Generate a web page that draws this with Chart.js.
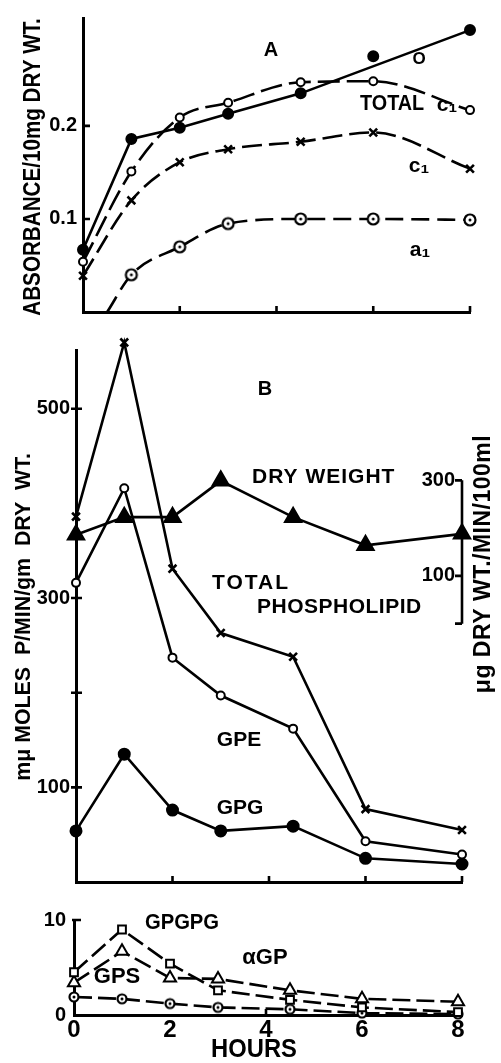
<!DOCTYPE html>
<html>
<head>
<meta charset="utf-8">
<script src="https://cdn.jsdelivr.net/npm/chart.js@4.4.1/dist/chart.umd.min.js"></script>
<style>
  body { margin: 0; background: #fff; }
  #page { position: relative; width: 501px; height: 1063px; }
  canvas { position: absolute; left: 0; }
</style>
</head>
<body>
<div id="page">
  <canvas id="panelA" width="501" height="330" style="top:0"></canvas>
  <canvas id="panelB" width="501" height="570" style="top:330px"></canvas>
  <canvas id="panelC" width="501" height="163" style="top:900px"></canvas>
</div>
<script>
// DATA (hours after start)
const hours = [0, 1, 2, 3, 4.5, 6, 8];

// panel A - absorbance / 10 mg dry wt.
const absO = [0.067, 0.186, 0.198, 0.213, 0.235, 0.275, 0.303];
const absTotalC1 = [0.054, 0.151, 0.209, 0.225, 0.247, 0.248, 0.217];
const absC1 = [0.039, 0.120, 0.161, 0.175, 0.183, 0.193, 0.154];
const a1Hours = [0.5, 1, 2, 3, 4.5, 6, 8];
const absA1 = [0.0, 0.040, 0.070, 0.095, 0.100, 0.100, 0.099];
const absTicks = [0.1, 0.2];

// panel B - m-micro moles P/min/gm dry wt. and dry weight
const totalPL = [386, 570, 331, 263, 238, 77, 55];
const gpe = [316, 416, 237, 197, 162, 43, 29];
const gpg = [54, 135, 76, 54, 59, 25, 19];
const dryWeight = [186, 223, 223, 299, 223, 164, 188];
const rateTicks = [100, 300, 500];
const rateMinor = [200];
const dryTicks = [100, 300];

// panel C - small fractions
const gpgpg = [4.5, 9.0, 5.4, 2.6, 1.6, 0.8, 0.3];
const alphaGP = [3.4, 6.7, 3.9, 3.8, 2.6, 1.7, 1.4];
const gps = [1.9, 1.7, 1.2, 0.8, 0.6, 0.2, 0.1];
const smallTicks = [0, 10];
const hourTicks = [0, 2, 4, 6, 8];

const FONT = '"Liberation Sans", Arial, sans-serif';

function series(xs, ys) {
  return xs.map((x, i) => ({ x: x, y: ys[i] }));
}

// circle with a dot in the middle
function ringDot(r) {
  const c = document.createElement("canvas");
  const s = Math.ceil(r * 2 + 5);
  c.width = s;
  c.height = s;
  const g = c.getContext("2d");
  g.fillStyle = "#fff";
  g.strokeStyle = "#000";
  g.lineWidth = 2.2;
  g.beginPath();
  g.arc(s / 2, s / 2, r, 0, Math.PI * 2);
  g.fill();
  g.stroke();
  g.fillStyle = "#000";
  g.beginPath();
  g.arc(s / 2, s / 2, 1.5, 0, Math.PI * 2);
  g.fill();
  return c;
}

function drawLabel(ctx, t, top) {
  ctx.save();
  ctx.translate(t.x, t.y - top);
  if (t.rot) ctx.rotate(t.rot);
  ctx.scale(t.sx || 1, 1);
  ctx.font = "bold " + t.size + "px " + FONT;
  ctx.letterSpacing = (t.ls || 0) + "px";
  ctx.fillStyle = "#000";
  ctx.textAlign = t.align || "center";
  ctx.textBaseline = "middle";
  ctx.fillText(t.text, 0, 0);
  ctx.restore();
}

function strokeSegs(ctx, segs) {
  ctx.save();
  ctx.lineWidth = 2.6;
  ctx.strokeStyle = "#000";
  ctx.beginPath();
  segs.forEach(s => {
    ctx.moveTo(s[0], s[1]);
    ctx.lineTo(s[2], s[3]);
  });
  ctx.stroke();
  ctx.restore();
}

// labels + hand drawn tick marks for each panel
function decor(items, top, extra) {
  return {
    id: "decor",
    afterDraw(chart) {
      const ctx = chart.ctx;
      if (extra) extra(chart, ctx);
      items.forEach(t => drawLabel(ctx, t, top));
    }
  };
}

function xScale(height, showLabels) {
  return {
    type: "linear",
    min: 0,
    max: 8,
    grid: { display: false, drawTicks: false },
    border: { display: true, color: "#000", width: 3 },
    ticks: {
      display: showLabels,
      stepSize: 2,
      padding: 1,
      color: "#000",
      font: { family: FONT, size: 24, weight: "bold" }
    },
    afterBuildTicks: s => { s.ticks = hourTicks.map(v => ({ value: v })); },
    afterFit: s => { s.height = height; }
  };
}

function yScale(min, max, width, tickVals, pad) {
  return {
    type: "linear",
    min: min,
    max: max,
    grid: { display: false, drawTicks: false },
    border: { display: true, color: "#000", width: 3 },
    ticks: {
      padding: pad,
      color: "#000",
      font: { family: FONT, size: 20, weight: "bold" }
    },
    afterBuildTicks: s => { s.ticks = tickVals.map(v => ({ value: v })); },
    afterFit: s => { s.width = width; }
  };
}

const lineBase = {
  borderColor: "#000",
  borderWidth: 2.6,
  pointBorderColor: "#000",
  pointBorderWidth: 2,
  clip: false,
  tension: 0
};

const common = {
  responsive: false,
  animation: false,
  devicePixelRatio: 1,
  plugins: { legend: { display: false }, tooltip: { enabled: false } }
};

// PANEL A
const ringBig = ringDot(5.5);
new Chart(document.getElementById("panelA"), {
  type: "line",
  data: {
    datasets: [
      { ...lineBase, data: series(hours, absO), showLine: false,
        pointStyle: "circle", pointRadius: 5, pointBackgroundColor: "#000" },
      { ...lineBase, data: series(hours, absO).filter(p => p.x !== 6), pointRadius: 0 },
      { ...lineBase, data: series(hours, absTotalC1), borderDash: [22, 7], cubicInterpolationMode: "monotone",
        pointStyle: "circle", pointRadius: 4, pointBackgroundColor: "#fff" },
      { ...lineBase, data: series(hours, absC1), borderDash: [20, 7], cubicInterpolationMode: "monotone",
        pointStyle: "crossRot", pointRadius: 5.5, pointBorderWidth: 2.6 },
      { ...lineBase, data: series(a1Hours, absA1), borderDash: [18, 8], cubicInterpolationMode: "monotone",
        pointStyle: ringBig, pointRadius: a1Hours.map((h, i) => i === 0 ? 0 : 6) }
    ]
  },
  options: {
    ...common,
    layout: { padding: { top: 12, right: 31, left: 0, bottom: 0 } },
    scales: {
      x: xScale(11, false),
      y: yScale(0, 0.316, 83, absTicks, 6)
    }
  },
  plugins: [decor([
    { text: "A", x: 271, y: 50, size: 20 },
    { text: "O", x: 419, y: 59, size: 17 },
    { text: "TOTAL", x: 360, y: 104, size: 22, align: "left", sx: 0.9 },
    { text: "c\u2081", x: 447, y: 105, size: 21 },
    { text: "c\u2081", x: 419, y: 166, size: 21 },
    { text: "a\u2081", x: 420, y: 250, size: 21 },
    { text: "ABSORBANCE/10mg DRY WT.", x: 33, y: 167, size: 24, rot: -Math.PI / 2, sx: 0.86 }
  ], 0, (chart, ctx) => {
    const xs = chart.scales.x, ys = chart.scales.y;
    const segs = [];
    [2, 4, 6, 8].forEach(v => {
      const px = xs.getPixelForValue(v);
      segs.push([px, ys.bottom, px, ys.bottom - 6]);
    });
    absTicks.forEach(v => {
      const py = ys.getPixelForValue(v);
      segs.push([xs.left, py, xs.left + 7, py]);
    });
    strokeSegs(ctx, segs);
  })]
});

// PANEL B
new Chart(document.getElementById("panelB"), {
  type: "line",
  data: {
    datasets: [
      { ...lineBase, data: series(hours, totalPL),
        pointStyle: "crossRot", pointRadius: 5.5, pointBorderWidth: 2.6 },
      { ...lineBase, data: series(hours, gpe),
        pointStyle: "circle", pointRadius: 4, pointBackgroundColor: "#fff" },
      { ...lineBase, data: series(hours, gpg),
        pointStyle: "circle", pointRadius: 5.5, pointBackgroundColor: "#000" },
      { ...lineBase, data: series(hours, dryWeight), yAxisID: "y2",
        pointStyle: "triangle", pointRadius: 9.5, pointBackgroundColor: "#000" }
    ]
  },
  options: {
    ...common,
    layout: { padding: { top: 20, right: 39, left: 0, bottom: 0 } },
    scales: {
      x: xScale(8, false),
      y: yScale(0, 562, 76, rateTicks, 6),
      y2: { type: "linear", position: "right", display: false, min: -541, max: 573 }
    }
  },
  plugins: [decor([
    { text: "B", x: 265, y: 389, size: 20 },
    { text: "DRY WEIGHT", x: 252, y: 477, size: 21, align: "left", ls: 1 },
    { text: "TOTAL", x: 212, y: 583, size: 21, align: "left", ls: 2 },
    { text: "PHOSPHOLIPID", x: 257, y: 607, size: 21, align: "left", ls: 0.5 },
    { text: "GPE", x: 239, y: 740, size: 21 },
    { text: "GPG", x: 240, y: 808, size: 21 },
    { text: "m\u03bc MOLES  P/MIN/gm  DRY  WT.", x: 24, y: 617, size: 22, rot: -Math.PI / 2, sx: 0.97 },
    { text: "\u03bcg DRY WT./MIN/100ml", x: 484, y: 564, size: 23, rot: -Math.PI / 2, ls: 0.5 }
  ], 330, (chart, ctx) => {
    const xs = chart.scales.x, ys = chart.scales.y, y2 = chart.scales.y2;
    const segs = [];
    [2, 4, 6, 8].forEach(v => {
      const px = xs.getPixelForValue(v);
      segs.push([px, ys.bottom, px, ys.bottom - 6]);
    });
    rateTicks.concat(rateMinor).forEach(v => {
      const py = ys.getPixelForValue(v);
      segs.push([xs.left - 5, py, xs.left + 6, py]);
    });
    // bracket for the dry weight scale
    const ax = xs.right;
    const top = y2.getPixelForValue(300), bot = y2.getPixelForValue(0);
    segs.push([ax, top, ax, bot]);
    [0].concat(dryTicks).forEach(v => {
      const py = y2.getPixelForValue(v);
      segs.push([ax - 7, py, ax, py]);
    });
    strokeSegs(ctx, segs);
    ctx.save();
    ctx.font = "bold 20px " + FONT;
    ctx.fillStyle = "#000";
    ctx.textAlign = "right";
    ctx.textBaseline = "middle";
    dryTicks.forEach(v => ctx.fillText(String(v), ax - 7, y2.getPixelForValue(v)));
    ctx.restore();
  })]
});

// PANEL C
const ringSmall = ringDot(4.5);
new Chart(document.getElementById("panelC"), {
  type: "line",
  data: {
    datasets: [
      { ...lineBase, data: series(hours, gpgpg), borderDash: [18, 6],
        pointStyle: "rect", pointRadius: 5.5, pointBackgroundColor: "#fff" },
      { ...lineBase, data: series(hours, alphaGP), borderDash: [18, 6],
        pointStyle: "triangle", pointRadius: 7, pointBackgroundColor: "#fff" },
      { ...lineBase, data: series(hours, gps), borderDash: [18, 6],
        pointStyle: ringSmall, pointRadius: 5 }
    ]
  },
  options: {
    ...common,
    layout: { padding: { top: 20, right: 43, left: 0, bottom: 0 } },
    scales: {
      x: xScale(48, true),
      y: yScale(0, 10, 74, smallTicks, 8)
    }
  },
  plugins: [decor([
    { text: "GPGPG", x: 182, y: 923, size: 22, sx: 0.92 },
    { text: "\u03b1GP", x: 265, y: 958, size: 22 },
    { text: "GPS", x: 117, y: 977, size: 22 },
    { text: "HOURS", x: 254, y: 1050, size: 25, sx: 0.95 }
  ], 900, (chart, ctx) => {
    const xs = chart.scales.x, ys = chart.scales.y;
    const py = ys.getPixelForValue(10);
    const px = xs.getPixelForValue(4);
    strokeSegs(ctx, [
      [xs.left - 2, py, xs.left + 7, py],
      [px, ys.bottom, px, ys.bottom - 6]
    ]);
  })]
});
</script>
</body>
</html>
